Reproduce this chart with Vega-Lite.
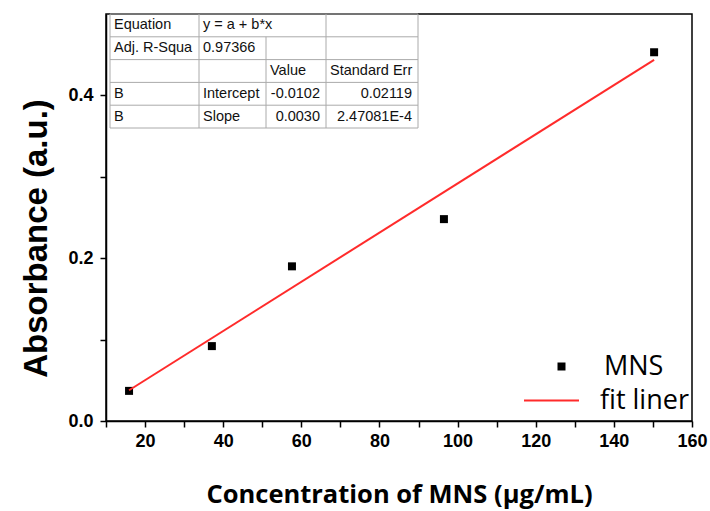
{
  "$schema": "https://vega.github.io/schema/vega-lite/v6.json",
  "width": 586,
  "height": 407,
  "autosize": {"type": "none"},
  "padding": {"left": 106, "top": 14, "right": 18, "bottom": 90},
  "background": "white",
  "config": {
    "view": {"stroke": "black", "strokeWidth": 1.5},
    "legend": {"padding": 0}
  },
  "layer": [
    {
      "encoding": {
        "x": {
          "field": "conc",
          "type": "quantitative",
          "scale": {"domain": [10, 160], "nice": false, "zero": false},
          "axis": {
            "values": [10, 20, 30, 40, 50, 60, 70, 80, 90, 100, 110, 120, 130, 140, 150, 160],
            "labelExpr": "datum.value % 20 == 0 ? datum.label : ''",
            "grid": false,
            "domainColor": "black",
            "domainWidth": 1.5,
            "tickColor": "black",
            "tickWidth": 1.5,
            "tickSize": 6,
            "labelFont": "Liberation Sans",
            "labelFontWeight": "bold",
            "labelFontSize": 18,
            "labelColor": "black",
            "labelPadding": 5,
            "labelFlush": false,
            "labelOverlap": false,
            "title": "Concentration of MNS (μg/mL)",
            "titleFont": "Open Sans",
            "titleFontSize": 25.5,
            "titleFontWeight": "bold",
            "titleColor": "black",
            "titlePadding": 32
          }
        },
        "y": {
          "field": "abs",
          "type": "quantitative",
          "scale": {"domain": [0, 0.5], "nice": false},
          "axis": {
            "values": [0, 0.1, 0.2, 0.3, 0.4],
            "labelExpr": "indexof([0, 0.2, 0.4], datum.value) >= 0 ? format(datum.value, '.1f') : ''",
            "grid": false,
            "domainColor": "black",
            "domainWidth": 1.5,
            "tickColor": "black",
            "tickWidth": 1.5,
            "tickSize": 6,
            "labelFont": "Liberation Sans",
            "labelFontWeight": "bold",
            "labelFontSize": 18,
            "labelColor": "black",
            "labelPadding": 7,
            "labelFlush": false,
            "labelOverlap": false,
            "title": "Absorbance (a.u.)",
            "titleFont": "Liberation Sans",
            "titleFontSize": 33,
            "titleFontWeight": "bold",
            "titleColor": "black",
            "titlePadding": 14,
            "titleY": 224
          }
        }
      },
      "layer": [
        {
          "data": {
            "values": [
              {"conc": 15.9, "abs": 0.037, "series": "MNS"},
              {"conc": 37.1, "abs": 0.092, "series": "MNS"},
              {"conc": 57.6, "abs": 0.19, "series": "MNS"},
              {"conc": 96.5, "abs": 0.248, "series": "MNS"},
              {"conc": 150.3, "abs": 0.453, "series": "MNS"}
            ]
          },
          "mark": {"type": "point", "filled": true, "color": "black", "size": 64, "opacity": 1},
          "encoding": {
            "shape": {
              "field": "series",
              "type": "nominal",
              "scale": {"domain": ["MNS"], "range": ["square"]},
              "legend": {
                "title": null,
                "orient": "none",
                "legendX": 442,
                "legendY": 339,
                "labelFont": "Open Sans",
                "labelFontSize": 27,
                "labelColor": "black",
                "symbolSize": 64,
                "symbolFillColor": "black",
                "symbolStrokeColor": "black",
                "symbolStrokeWidth": 0,
                "labelOffset": 29
              }
            }
          }
        },
        {
          "data": {
            "values": [
              {"conc": 15.9, "abs": 0.0378, "series": "fit liner"},
              {"conc": 150.3, "abs": 0.4437, "series": "fit liner"}
            ]
          },
          "mark": {"type": "line", "strokeWidth": 2},
          "encoding": {
            "color": {
              "field": "series",
              "type": "nominal",
              "scale": {"domain": ["fit liner"], "range": ["#ff2b2b"]},
              "legend": {
                "title": null,
                "orient": "none",
                "legendX": 417,
                "legendY": 358,
                "labelFont": "Open Sans",
                "labelFontSize": 27,
                "labelColor": "black",
                "symbolType": "stroke",
                "symbolSize": 3025,
                "symbolStrokeWidth": 2,
                "labelOffset": 20
              }
            }
          }
        }
      ]
    },
    {
      "layer": [
        {
          "layer": [
            {
              "data": {"values": [{"edge": 0}, {"edge": 1}, {"edge": 2}, {"edge": 3}, {"edge": 4}, {"edge": 5}]},
              "mark": {"type": "rule", "stroke": "#aaaaaa", "strokeWidth": 1},
              "encoding": {
                "y": {"field": "edge", "type": "quantitative", "scale": {"domain": [0, 5], "range": [0, 114], "nice": false, "zero": false}, "axis": null},
                "x": {"datum": 0, "type": "quantitative", "scale": {"domain": [0, 1, 2, 3, 4], "range": [4, 93, 160, 220, 312], "nice": false, "zero": false}, "axis": null},
                "x2": {"datum": 4}
              }
            },
            {
              "data": {"values": [{"edge": 0, "top": 0}, {"edge": 1, "top": 0}, {"edge": 2, "top": 1}, {"edge": 3, "top": 0}, {"edge": 4, "top": 0}]},
              "mark": {"type": "rule", "stroke": "#aaaaaa", "strokeWidth": 1},
              "encoding": {
                "x": {"field": "edge", "type": "quantitative", "scale": {"domain": [0, 1, 2, 3, 4], "range": [4, 93, 160, 220, 312], "nice": false, "zero": false}, "axis": null},
                "y": {"field": "top", "type": "quantitative", "scale": {"domain": [0, 5], "range": [0, 114], "nice": false, "zero": false}, "axis": null},
                "y2": {"datum": 5}
              }
            }
          ]
        },
        {
          "data": {
            "name": "table",
            "values": [
              {"row": 0, "col": 0, "text": "Equation"},
              {"row": 0, "col": 1, "text": "y = a + b*x"},
              {"row": 1, "col": 0, "text": "Adj. R-Squa"},
              {"row": 1, "col": 1, "text": "0.97366"},
              {"row": 2, "col": 2, "text": "Value"},
              {"row": 2, "col": 3, "text": "Standard Err"},
              {"row": 3, "col": 0, "text": "B"},
              {"row": 3, "col": 1, "text": "Intercept"},
              {"row": 3, "col": 2, "text": "-0.0102"},
              {"row": 3, "col": 3, "text": "0.02119"},
              {"row": 4, "col": 0, "text": "B"},
              {"row": 4, "col": 1, "text": "Slope"},
              {"row": 4, "col": 2, "text": "0.0030"},
              {"row": 4, "col": 3, "text": "2.47081E-4"}
            ]
          },
          "transform": [{"filter": "!(datum.row >= 3 && datum.col >= 2)"}],
          "mark": {"type": "text", "align": "left", "baseline": "middle", "dx": 4, "font": "Liberation Sans", "fontSize": 14.5, "color": "#111"},
          "encoding": {
            "x": {"field": "col", "type": "quantitative", "scale": {"domain": [0, 1, 2, 3, 4], "range": [4, 93, 160, 220, 312], "nice": false, "zero": false}, "axis": null},
            "y": {"field": "row", "type": "ordinal", "bandPosition": 0.5, "scale": {"type": "band", "domain": [0, 1, 2, 3, 4], "range": [0, 114], "paddingInner": 0, "paddingOuter": 0}, "axis": null},
            "text": {"field": "text"}
          }
        },
        {
          "data": {"name": "table"},
          "transform": [{"filter": "datum.row >= 3 && datum.col >= 2"}],
          "mark": {"type": "text", "align": "right", "baseline": "middle", "dx": -6, "font": "Liberation Sans", "fontSize": 14.5, "color": "#111"},
          "encoding": {
            "x": {"field": "col", "type": "quantitative", "scale": {"domain": [-1, 0, 1, 2, 3], "range": [4, 93, 160, 220, 312], "nice": false, "zero": false}, "axis": null},
            "y": {"field": "row", "type": "ordinal", "bandPosition": 0.5, "scale": {"type": "band", "domain": [0, 1, 2, 3, 4], "range": [0, 114], "paddingInner": 0, "paddingOuter": 0}, "axis": null},
            "text": {"field": "text"}
          }
        }
      ],
      "resolve": {"scale": {"x": "independent", "y": "independent"}}
    }
  ],
  "resolve": {"scale": {"x": "independent", "y": "independent"}}
}
